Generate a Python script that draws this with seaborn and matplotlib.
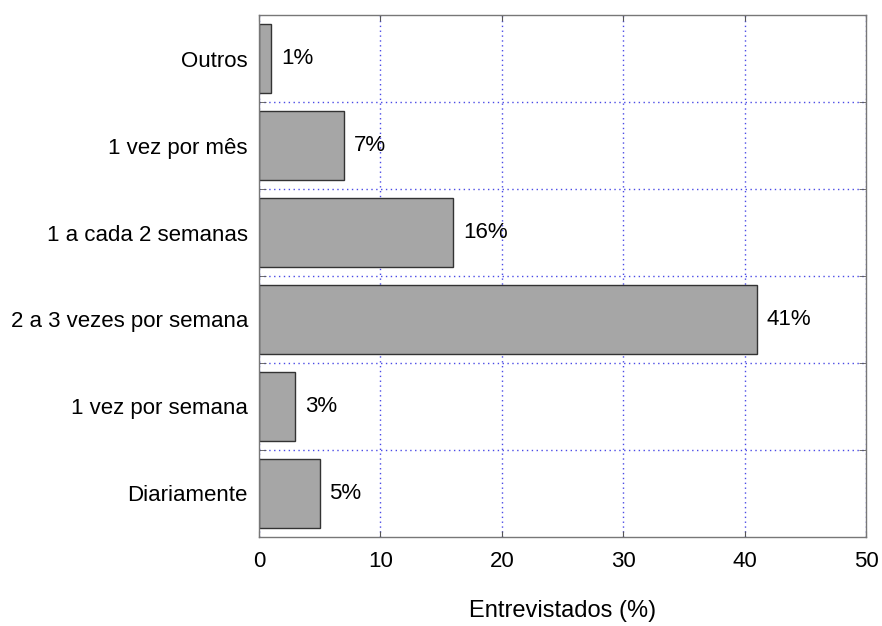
import matplotlib
matplotlib.use("Agg")
import matplotlib.pyplot as plt
import numpy as np
import pandas as pd
import seaborn as sns

categories = [
    "Outros",
    "1 vez por mês",
    "1 a cada 2 semanas",
    "2 a 3 vezes por semana",
    "1 vez por semana",
    "Diariamente",
]
values = [1, 7, 16, 41, 3, 5]
value_labels = ["1%", "7%", "16%", "41%", "3%", "5%"]

sns.set_style("white")
plt.rcParams["font.family"] = ["Liberation Sans", "DejaVu Sans"]
plt.rcParams["text.color"] = "black"
plt.rcParams["xtick.color"] = "black"
plt.rcParams["ytick.color"] = "black"
plt.rcParams["axes.labelcolor"] = "black"

df = pd.DataFrame({"categoria": categories, "valor": values})

fig = plt.figure(figsize=(8.82, 6.26), dpi=100)
ax = fig.add_axes([0.2937, 0.1422, 0.9819 - 0.2937, 0.976 - 0.1422])

sns.barplot(
    data=df,
    x="valor",
    y="categoria",
    orient="h",
    color="#a6a6a6",
    saturation=1,
    edgecolor="#333333",
    linewidth=1,
    width=0.8,
    ax=ax,
)

for i, (v, lab) in enumerate(zip(values, value_labels)):
    ax.annotate(lab, (v, i), xytext=(7, 0), textcoords="offset points",
                va="center", ha="left", fontsize=16)

ax.set_xlim(0, 50)
ax.set_ylim(len(categories) - 0.5, -0.5)
ax.set_xticks(np.arange(0, 51, 10))
ax.set_yticks(np.arange(len(categories)))
ax.set_yticks(np.arange(len(categories) - 1) + 0.5, minor=True)

ax.set_axisbelow(True)
ax.grid(False)
ax.xaxis.grid(True, which="major", color="#4a4ae6", linestyle=(0, (1, 2.5)), linewidth=1)
ax.yaxis.grid(True, which="minor", color="#4a4ae6", linestyle=(0, (1, 2.5)), linewidth=1)

ax.tick_params(axis="x", which="major", direction="in", length=4, top=True,
               bottom=True, labelsize=16, pad=10, color="#555555",
               labelcolor="black")
ax.tick_params(axis="y", which="major", length=0, labelsize=16, pad=8,
               labelcolor="black")
ax.tick_params(axis="y", which="minor", direction="in", length=5, left=True,
               right=True, color="#555555")

for s in ax.spines.values():
    s.set_visible(True)
    s.set_color("#777777")
    s.set_linewidth(1)

ax.set_xlabel("Entrevistados (%)", fontsize=17, labelpad=20, color="black")
ax.set_ylabel("")

plt.savefig("out.png", dpi=100)
plt.close()
